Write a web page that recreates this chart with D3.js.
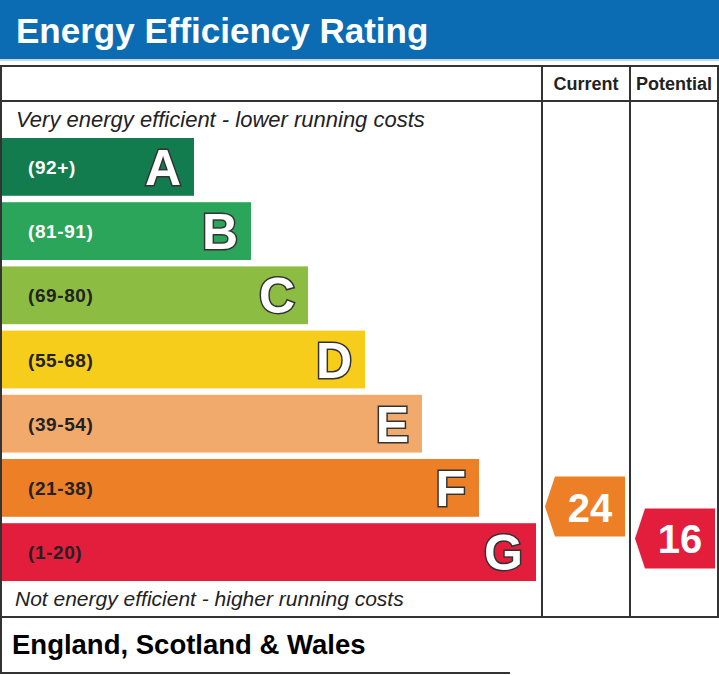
<!DOCTYPE html>
<html>
<head>
<meta charset="utf-8">
<script src="https://cdn.jsdelivr.net/npm/d3@7"></script>
<style>
  body { margin: 0; background: #fff; }
  svg { display: block; font-family: "Liberation Sans", Arial, sans-serif; }
</style>
</head>
<body>
<div id="chart"></div>
<script>
// rating bands, top (best) to bottom (worst)
var letters = ['A', 'B', 'C', 'D', 'E', 'F', 'G'];
var ranges = ['(92+)', '(81-91)', '(69-80)', '(55-68)', '(39-54)', '(21-38)', '(1-20)'];
var bandMin = [92, 81, 69, 55, 39, 21, 1];
var bandMax = [100, 91, 80, 68, 54, 38, 20];
var colours = ['#137c4f', '#2aa55a', '#8dbc42', '#f6cd1a', '#f2a96c', '#ed7f27', '#e31d3c'];
var rangeText = ['#fff', '#fff', '#222', '#222', '#222', '#222', '#222'];

var columns = ['Current', 'Potential'];
var ratings = [24, 16];

var width = 719, height = 675;

var svg = d3.select('#chart').append('svg')
  .attr('width', width)
  .attr('height', height);

// header
svg.append('rect')
  .attr('x', 0).attr('y', 0)
  .attr('width', width).attr('height', 59)
  .style('fill', '#0b6cb3');
svg.append('rect')
  .attr('x', 0).attr('y', 59)
  .attr('width', width).attr('height', 2)
  .style('fill', '#c9d6e6');
svg.append('text')
  .attr('x', 16).attr('y', 43)
  .style('fill', '#fff')
  .style('font-size', '35px')
  .style('font-weight', 'bold')
  .text('Energy Efficiency Rating');

var y = d3.scaleBand()
  .domain(letters)
  .range([138, 581])
  .paddingInner(0.1)
  .paddingOuter(0);

var barEnd = d3.scaleLinear()
  .domain([0, letters.length - 1])
  .range([194, 536]);

var col = d3.scaleBand()
  .domain(columns)
  .range([542, 718]);

// frame
var frame = svg.append('g')
  .style('stroke', '#333')
  .style('stroke-width', 2)
  .style('fill', 'none');
frame.append('rect')
  .attr('x', 1).attr('y', 66)
  .attr('width', 717).attr('height', 551);
frame.append('line')
  .attr('x1', 1).attr('x2', 718)
  .attr('y1', 101).attr('y2', 101);
columns.forEach(function (c) {
  frame.append('line')
    .attr('x1', col(c)).attr('x2', col(c))
    .attr('y1', 66).attr('y2', 617);
});
// footer box (open on the right)
frame.append('path')
  .attr('d', 'M1,617 L1,673 L510,673');

svg.selectAll('.colhead').data(columns)
  .enter().append('text')
  .attr('class', 'colhead')
  .attr('x', function (c) { return col(c) + col.bandwidth() / 2; })
  .attr('y', 90)
  .attr('text-anchor', 'middle')
  .style('font-size', '18px')
  .style('font-weight', 'bold')
  .style('fill', '#222')
  .text(function (c) { return c; });

svg.append('text')
  .attr('x', 16).attr('y', 127)
  .style('font-size', '22px')
  .style('font-style', 'italic')
  .style('fill', '#222')
  .text('Very energy efficient - lower running costs');

svg.append('text')
  .attr('x', 15).attr('y', 606)
  .style('font-size', '21px')
  .style('font-style', 'italic')
  .style('fill', '#222')
  .text('Not energy efficient - higher running costs');

svg.append('text')
  .attr('x', 12).attr('y', 654)
  .style('font-size', '27.5px')
  .style('font-weight', 'bold')
  .style('fill', '#000')
  .text('England, Scotland & Wales');

// bars
var bars = svg.selectAll('.band').data(letters)
  .enter().append('g')
  .attr('class', 'band');

bars.append('rect')
  .attr('x', 2)
  .attr('y', function (d) { return y(d); })
  .attr('width', function (d, i) { return barEnd(i) - 2; })
  .attr('height', y.bandwidth())
  .style('fill', function (d, i) { return colours[i]; });

bars.append('text')
  .attr('x', 28)
  .attr('y', function (d) { return y(d) + y.bandwidth() / 2 + 7; })
  .style('font-size', '19px')
  .style('font-weight', 'bold')
  .style('letter-spacing', '0.6px')
  .style('fill', function (d, i) { return rangeText[i]; })
  .text(function (d, i) { return ranges[i]; });

bars.append('text')
  .attr('x', function (d, i) { return barEnd(i) - 13; })
  .attr('y', function (d) { return y(d) + y.bandwidth() / 2 + 18; })
  .attr('text-anchor', 'end')
  .style('font-size', '50px')
  .style('font-weight', 'bold')
  .style('fill', '#fff')
  .style('stroke', '#333')
  .style('stroke-width', 3)
  .style('paint-order', 'stroke')
  .text(function (d) { return d; });

// position of a rating inside its band
function bandOf(v) {
  for (var i = 0; i < letters.length; i++) {
    if (v >= bandMin[i]) return i;
  }
  return letters.length - 1;
}
function ratingY(v) {
  var i = bandOf(v);
  var t = (bandMax[i] - v) / (bandMax[i] - bandMin[i]);
  return y(letters[i]) + t * y.bandwidth();
}

var arrowH = 60, arrowW = 80, tip = 10;
var arrows = svg.selectAll('.arrow').data(ratings)
  .enter().append('g')
  .attr('class', 'arrow')
  .attr('transform', function (v, i) {
    return 'translate(' + (col(columns[i]) + 3 + 2 * i) + ',' + (ratingY(v) - arrowH / 2 + 3 * i) + ')';
  });

arrows.append('path')
  .attr('d', 'M0,' + arrowH / 2 + ' L' + tip + ',0 L' + arrowW + ',0 L' + arrowW + ',' + arrowH +
             ' L' + tip + ',' + arrowH + ' Z')
  .style('fill', function (v) { return colours[bandOf(v)]; });

arrows.append('text')
  .attr('x', tip + (arrowW - tip) / 2)
  .attr('y', arrowH / 2 + 15)
  .attr('text-anchor', 'middle')
  .style('font-size', '40px')
  .style('font-weight', 'bold')
  .style('fill', '#fff')
  .text(function (v) { return v; });
</script>
</body>
</html>
